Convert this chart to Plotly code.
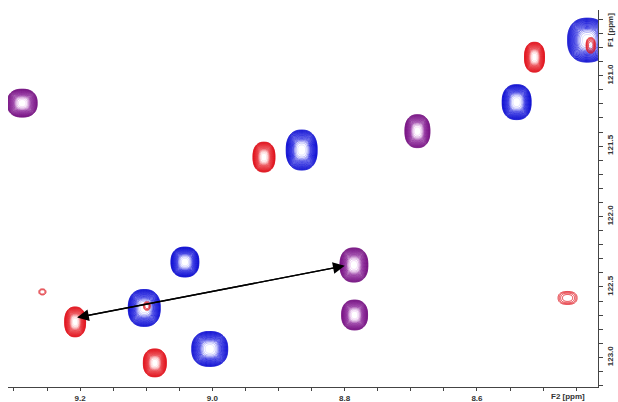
import numpy as np
import plotly.graph_objects as go

# ---- peak data (F2 ppm, F1 ppm, half-width F2, half-width F1, depth) ----
blue_x = [8.433, 8.540, 8.865, 9.0415, 9.103, 9.004]
blue_y = [120.748, 121.188, 121.528, 122.323, 122.649, 122.940]
blue_wx = [0.030, 0.0219, 0.0234, 0.0211, 0.0242, 0.0272]
blue_wy = [0.156, 0.124, 0.142, 0.106, 0.131, 0.124]
blue_d = [4, 4, 4, 4, 4, 4]

red_x = [8.513, 8.922, 9.2075, 9.087, 8.463, 9.257, 8.428, 9.099]
red_y = [120.869, 121.578, 122.748, 123.039, 122.578, 122.535, 120.785, 122.635]
red_wx = [0.0151, 0.0166, 0.0158, 0.0174, 0.0143, 0.0053, 0.007, 0.005]
red_wy = [0.106, 0.106, 0.106, 0.099, 0.046, 0.021, 0.055, 0.03]
red_d = [4, 4, 4, 4, 0.8, 0.4, 1.0, 0.6]

purple_x = [9.2875, 8.690, 8.786, 8.785]
purple_y = [121.195, 121.394, 122.344, 122.699]
purple_wx = [0.0226, 0.0189, 0.0211, 0.0196]
purple_wy = [0.099, 0.117, 0.121, 0.106]
purple_d = [4, 4, 4, 4]

arrow_start = (9.2045, 122.717)
arrow_end = (8.800, 122.350)

x_range = [9.309, 8.417]
y_range = [123.21, 120.534]

COLORS = {
    "blue": ["#0c0cd0", "#2020e0", "#d8d8ff"],
    "red": ["#e0101a", "#e83038", "#ffd8da"],
    "purple": ["#741080", "#8a2298", "#f0d0f4"],
}

LMIN = -4.0
fig = go.Figure()


def add_peaks(xs, ys, wxs, wys, ds, cname):
    c = COLORS[cname]
    for cx, cy, wx, wy, d in zip(xs, ys, wxs, wys, ds):
        gx = np.linspace(cx - 1.35 * wx, cx + 1.35 * wx, 60)
        gy = np.linspace(cy - 1.35 * wy, cy + 1.35 * wy, 60)
        X, Y = np.meshgrid(gx, gy)
        u = np.abs((X - cx) / wx)
        v = np.abs((Y - cy) / wy)
        r = (u ** 2.4 + v ** 2.4) ** (1 / 2.4)
        Z = LMIN + d - d * r ** 2.2
        fig.add_trace(go.Contour(
            x=gx, y=gy, z=Z,
            contours=dict(start=LMIN, end=-0.05, size=0.2, coloring="lines"),
            line=dict(width=0.9, smoothing=1),
            colorscale=[[0, c[0]], [0.78, c[1]], [1, c[2]]],
            zmin=LMIN, zmax=0, zauto=False,
            showscale=False, hoverinfo="skip",
        ))


add_peaks(blue_x, blue_y, blue_wx, blue_wy, blue_d, "blue")
add_peaks(purple_x, purple_y, purple_wx, purple_wy, purple_d, "purple")
add_peaks(red_x, red_y, red_wx, red_wy, red_d, "red")

for head, tail in [(arrow_start, arrow_end), (arrow_end, arrow_start)]:
    fig.add_annotation(
        x=head[0], y=head[1], ax=tail[0], ay=tail[1],
        xref="x", yref="y", axref="x", ayref="y",
        text="", showarrow=True, arrowhead=2, arrowsize=1.8,
        arrowwidth=1.3, arrowcolor="black", standoff=0,
    )

axis_col = "#444444"
tickfont = dict(family="Liberation Sans, Arial", size=8, color="#333333", weight="bold")

fig.update_xaxes(
    range=x_range, dtick=0.2, tick0=9.2, tickformat=".1f",
    showgrid=False, zeroline=False, showline=True, linecolor=axis_col, linewidth=1,
    ticks="outside", ticklen=3, tickcolor=axis_col, tickwidth=1, tickfont=tickfont,
    minor=dict(dtick=0.05, tick0=9.2, ticks="outside", ticklen=3, tickcolor=axis_col, showgrid=False),
)
fig.update_yaxes(
    range=y_range, dtick=0.5, tick0=121.0, tickformat=".1f", side="right", tickangle=-90,
    showgrid=False, zeroline=False, showline=True, linecolor=axis_col, linewidth=1,
    ticks="outside", ticklen=4, tickcolor=axis_col, tickwidth=1, tickfont=tickfont,
    minor=dict(dtick=0.1, tick0=121.0, ticks="outside", ticklen=4, tickcolor=axis_col, showgrid=False),
)

fig.add_annotation(text="F2 [ppm]", x=0.949, y=-0.026, xref="paper", yref="paper",
                   showarrow=False, font=tickfont, xanchor="center", yanchor="middle")
fig.add_annotation(text="F1 [ppm]", x=1.022, y=0.947, xref="paper", yref="paper",
                   showarrow=False, font=tickfont, textangle=-90, xanchor="center", yanchor="middle")

fig.update_layout(
    width=618, height=402,
    margin=dict(l=8, r=20, t=10, b=15, autoexpand=False),
    plot_bgcolor="white", paper_bgcolor="white",
    showlegend=False,
)

fig.write_html("out.html", config={"displayModeBar": False},
               post_script="document.body.style.margin='0px';document.body.style.overflow='hidden';")
